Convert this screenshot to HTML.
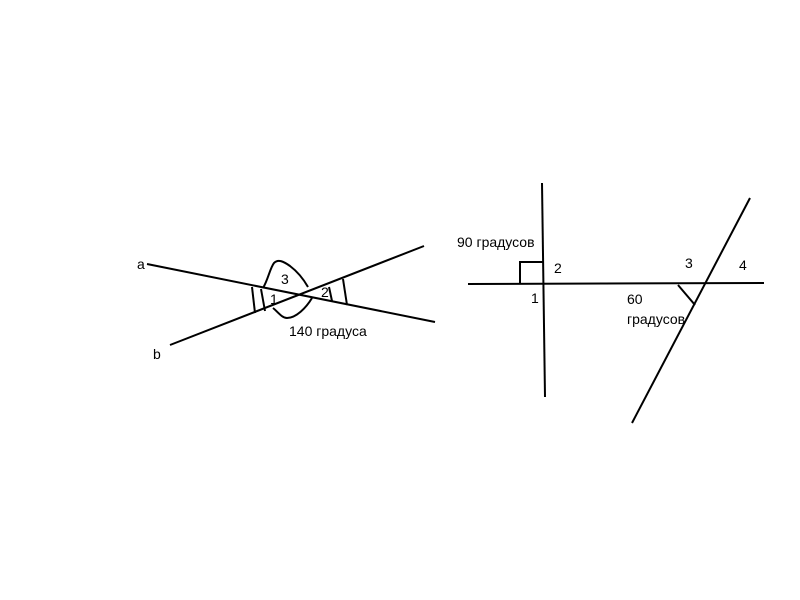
<!DOCTYPE html>
<html><head><style>body{margin:0;background:#fff}svg{display:block}</style></head><body>
<svg width="800" height="600" viewBox="0 0 800 600" xmlns="http://www.w3.org/2000/svg">
<g stroke="#000" stroke-width="2" fill="none">
<line x1="147" y1="264" x2="435" y2="322"/>
<line x1="170" y1="345" x2="424" y2="246"/>
<line x1="252" y1="287" x2="255" y2="313"/>
<line x1="261" y1="289" x2="265" y2="311"/>
<line x1="329" y1="287" x2="332" y2="301"/>
<line x1="343" y1="279" x2="347" y2="305"/>
<path d="M263 288 C268 280 270 268 274 263 C278 259 283 261 290 266 C298 272 304 280 308 287"/>
<path d="M273 308 C278 312 282 318 287 318 C296 318 306 308 312 298"/>
<line x1="542" y1="183" x2="545" y2="397"/>
<line x1="468" y1="284" x2="764" y2="283"/>
<line x1="750" y1="198" x2="632" y2="423"/>
<polyline points="520,284 520,262 543,262"/>
<line x1="678" y1="285" x2="695" y2="305"/>
</g>
<g font-family="Liberation Sans, sans-serif" font-size="14" fill="#000">
<text x="137" y="269">a</text>
<text x="153" y="359">b</text>
<text x="281" y="284">3</text>
<text x="270" y="304">1</text>
<text x="321" y="297">2</text>
<text x="289" y="336">140 градуса</text>
<text x="457" y="247">90 градусов</text>
<text x="554" y="273">2</text>
<text x="531" y="303">1</text>
<text x="685" y="268">3</text>
<text x="739" y="270">4</text>
<text x="627" y="304">60</text>
<text x="627" y="324">градусов</text>
</g>
</svg>
</body></html>
